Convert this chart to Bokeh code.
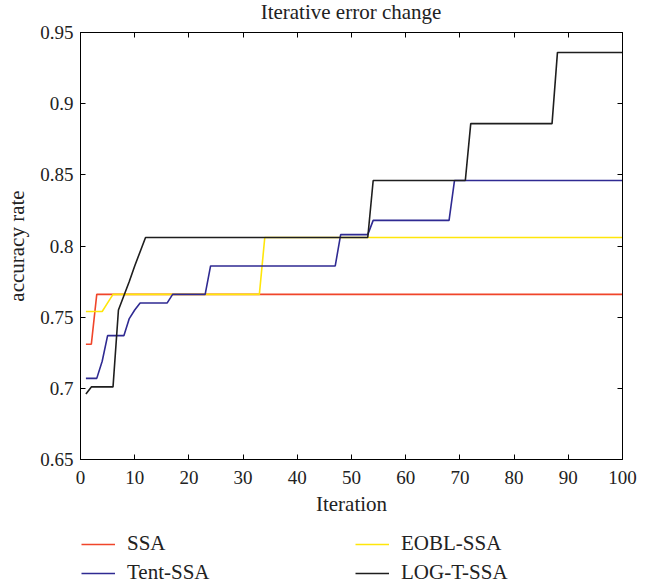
from bokeh.plotting import figure
from bokeh.layouts import column
from bokeh.models import (Range1d, LinearAxis, FixedTicker, CustomJSTickFormatter,
                          Legend, LegendItem, Div)
from bokeh.embed import file_html
from bokeh.resources import INLINE

# ---- data (breakpoints) ----
ssa_x = [1, 2, 3, 100]
ssa_y = [0.731, 0.731, 0.766, 0.766]

tent_x = [1, 3, 4, 5, 8, 9, 10, 11, 16, 17, 23, 24, 47, 48, 53, 54, 68, 69, 100]
tent_y = [0.707, 0.707, 0.719, 0.737, 0.737, 0.749, 0.755, 0.760, 0.760, 0.766,
          0.766, 0.786, 0.786, 0.808, 0.808, 0.818, 0.818, 0.846, 0.846]

eobl_x = [1, 4, 5, 6, 33, 34, 100]
eobl_y = [0.754, 0.754, 0.760, 0.766, 0.766, 0.806, 0.806]

logt_x = [1, 2, 6, 7, 8, 9, 10, 11, 12, 53, 54, 71, 72, 87, 88, 100]
logt_y = [0.696, 0.701, 0.701, 0.755, 0.765, 0.775, 0.786, 0.796, 0.806, 0.806,
          0.846, 0.846, 0.886, 0.886, 0.936, 0.936]

x_ticks = [0, 10, 20, 30, 40, 50, 60, 70, 80, 90, 100]
y_ticks = [0.65, 0.7, 0.75, 0.8, 0.85, 0.9, 0.95]

TITLE = "Iterative error change"
FONT = "Liberation Serif"
TXT = "#222222"
COLORS = {"SSA": "#f0452a", "EOBL-SSA": "#ffe60a", "Tent-SSA": "#2f2a92", "LOG-T-SSA": "#1e1e1e"}
SERIES = [("SSA", ssa_x, ssa_y), ("EOBL-SSA", eobl_x, eobl_y),
          ("Tent-SSA", tent_x, tent_y), ("LOG-T-SSA", logt_x, logt_y)]

# ---- title ----
tdiv = Div(text=('<div style="width:654px;height:24px;box-sizing:border-box;'
                 'padding-left:48px;text-align:center;font-family:\'Liberation Serif\';'
                 'font-size:21px;line-height:24px;color:#222222;margin:0;white-space:nowrap;">'
                 + TITLE + '</div>'),
           width=654, height=24, margin=0)

# ---- main chart ----
p = figure(width=654, height=496, output_backend="svg", toolbar_location=None,
           x_range=Range1d(0, 100), y_range=Range1d(0.65, 0.95),
           min_border_left=80, min_border_right=32, min_border_top=8,
           min_border_bottom=61)

p.grid.visible = False
p.outline_line_color = "black"
p.outline_line_width = 1
p.background_fill_color = "white"
p.border_fill_color = "white"

fmt = CustomJSTickFormatter(code="return String(Math.round(tick*100)/100);")

for ax in p.xaxis:
    ax.ticker = FixedTicker(ticks=x_ticks)
for ax in p.yaxis:
    ax.ticker = FixedTicker(ticks=y_ticks)
    ax.formatter = fmt

for ax in list(p.xaxis) + list(p.yaxis):
    ax.major_tick_in = 5
    ax.major_tick_out = 0
    ax.minor_tick_line_color = None
    ax.axis_line_color = "black"
    ax.major_tick_line_color = "black"
    ax.major_label_text_font = FONT
    ax.major_label_text_font_size = "19px"
    ax.major_label_text_color = TXT
    ax.axis_label_text_font = FONT
    ax.axis_label_text_font_size = "21px"
    ax.axis_label_text_font_style = "normal"
    ax.axis_label_text_color = TXT

p.xaxis.axis_label = "Iteration"
p.yaxis.axis_label = "accuracy rate"
p.xaxis.major_label_standoff = 11
p.yaxis.major_label_standoff = 7
p.xaxis.axis_label_standoff = 5
p.yaxis.axis_label_standoff = 8

# mirrored axes (ticks only)
top = LinearAxis(ticker=FixedTicker(ticks=x_ticks))
right = LinearAxis(ticker=FixedTicker(ticks=y_ticks))
for ax in (top, right):
    ax.major_tick_in = 5
    ax.major_tick_out = 0
    ax.minor_tick_line_color = None
    ax.major_label_text_font_size = "0px"
    ax.major_label_standoff = 0
    ax.axis_line_color = "black"
    ax.major_tick_line_color = "black"
p.add_layout(top, "above")
p.add_layout(right, "right")

lw = 1.6
for name, xs, ys in SERIES:
    p.line(xs, ys, line_color=COLORS[name], line_width=lw)

# ---- legend strip below the chart ----
lf = figure(width=654, height=66, output_backend="svg", toolbar_location=None,
            x_range=Range1d(-20, -10), y_range=Range1d(0, 1),
            min_border_left=80, min_border_right=32, min_border_top=0,
            min_border_bottom=0)
lf.axis.visible = False
lf.grid.visible = False
lf.outline_line_color = None
lf.background_fill_color = "white"
lf.border_fill_color = "white"

rs = {}
for name, xs, ys in SERIES:
    rs[name] = lf.line(xs, ys, line_color=COLORS[name], line_width=lw)


def make_legend(names, x):
    lg = Legend(items=[LegendItem(label=n, renderers=[rs[n]]) for n in names],
                location=(x, 1), orientation="vertical")
    lg.border_line_color = None
    lg.background_fill_alpha = 0
    lg.label_text_font = FONT
    lg.label_text_font_size = "21px"
    lg.label_text_color = TXT
    lg.glyph_width = 34
    lg.glyph_height = 20
    lg.label_height = 20
    lg.label_standoff = 12
    lg.spacing = 4
    lg.padding = 0
    lg.margin = 0
    return lg


lf.add_layout(make_legend(["SSA", "Tent-SSA"], 1))
lf.add_layout(make_legend(["EOBL-SSA", "LOG-T-SSA"], 275))

open("out.html", "w").write(file_html(column(tdiv, p, lf, spacing=0), INLINE))
